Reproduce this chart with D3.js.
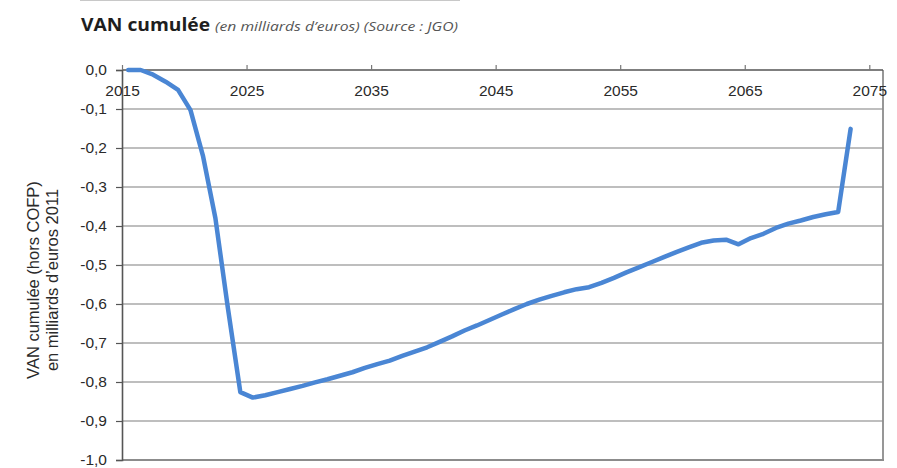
<!DOCTYPE html>
<html>
<head>
<meta charset="utf-8">
<script src="https://cdn.jsdelivr.net/npm/d3@7"></script>
<style>
  body { margin: 0; background: #fff; }
  svg { display: block; }
</style>
</head>
<body>
<div id="vis"></div>
<script>
// years and cumulated NPV (billions EUR 2011)
var years = d3.range(2015, 2074)
var van = [
  0, 0, -0.012, -0.03, -0.051, -0.103, -0.22, -0.38, -0.61, -0.826,
  -0.84, -0.834, -0.826, -0.818, -0.81, -0.801, -0.793, -0.784, -0.775, -0.764,
  -0.754, -0.745, -0.733, -0.722, -0.711, -0.697, -0.683, -0.668, -0.655, -0.641,
  -0.627, -0.613, -0.6, -0.589, -0.579, -0.57, -0.562, -0.557, -0.546, -0.533,
  -0.519, -0.506, -0.493, -0.48, -0.467, -0.455, -0.443, -0.437, -0.435, -0.447,
  -0.431, -0.42, -0.405, -0.394, -0.386, -0.377, -0.37, -0.364, -0.151
]
var xTicks = [2015, 2025, 2035, 2045, 2055, 2065, 2075]
var yTicks = d3.range(0, 11).map(function(i) { return -i / 10 })

var width = 897, height = 468
var margin = {top: 70, right: 14, bottom: 8, left: 122}

var svg = d3.select("#vis").append("svg")
    .attr("width", width)
    .attr("height", height)

// header
svg.append("line")
    .attr("x1", 80).attr("x2", 460).attr("y1", 0.5).attr("y2", 0.5)
    .attr("stroke", "#c8c8c8").attr("stroke-width", 1)

var title = svg.append("text")
    .attr("x", 81).attr("y", 31)
    .style("font-family", "'Open Sans', sans-serif")
title.append("tspan")
    .style("font-weight", "bold").style("font-size", "18px").style("fill", "#1e1e1e")
    .attr("textLength", 129).attr("lengthAdjust", "spacingAndGlyphs")
    .text("VAN cumulée")
title.append("tspan")
    .attr("x", 215)
    .style("font-style", "italic").style("font-size", "12.5px").style("fill", "#555")
    .attr("textLength", 243).attr("lengthAdjust", "spacingAndGlyphs")
    .text("(en milliards d’euros) (Source : JGO)")

var x = d3.scaleLinear()
    .domain([2015, 2076.1])
    .range([margin.left, width - margin.right])

var y = d3.scaleLinear()
    .domain([-1, 0])
    .range([height - margin.bottom, margin.top])

var g = svg.append("g")

// grid
g.selectAll(".grid")
    .data(yTicks.filter(function(d) { return d < 0 && d > -1 }))
    .enter().append("line")
    .attr("x1", x(2015)).attr("x2", x(2076.1))
    .attr("y1", function(d) { return y(d) }).attr("y2", function(d) { return y(d) })
    .attr("stroke", "#a9a9a9").attr("stroke-width", 1.4)

// frame right and bottom
g.append("line")
    .attr("x1", x(2015)).attr("x2", x(2076.1) + 1)
    .attr("y1", y(-1)).attr("y2", y(-1))
    .attr("stroke", "#8c8c8c").attr("stroke-width", 1.8)
g.append("line")
    .attr("x1", x(2076.1)).attr("x2", x(2076.1))
    .attr("y1", y(0)).attr("y2", y(-1))
    .attr("stroke", "#8c8c8c").attr("stroke-width", 1.8)

var tickFont = "'Liberation Sans', Arial, sans-serif"

// y axis
var yAxis = g.append("g")
    .attr("transform", "translate(" + x(2015) + ",0)")
    .call(d3.axisLeft(y).tickValues(yTicks).tickSize(6).tickPadding(9)
      .tickFormat(function(d) { return d3.format(".1f")(d).replace(".", ",").replace("−", "-") }))
yAxis.select(".domain").attr("stroke", "#555").attr("stroke-width", 1.6)
yAxis.selectAll(".tick line").attr("stroke", "#555").attr("stroke-width", 1.2)
yAxis.selectAll("text")
    .style("font-family", tickFont)
    .style("font-size", "15.5px").style("fill", "#2a2a2a")

// x axis along the zero line, labels below it
var xAxis = g.append("g")
    .attr("transform", "translate(0," + y(0) + ")")
    .call(d3.axisTop(x).tickValues(xTicks).tickSize(5).tickFormat(d3.format("d")))
xAxis.select(".domain").attr("d", "M" + x(2015) + ",0H" + x(2076.1))
    .attr("stroke", "#555").attr("stroke-width", 1.6)
xAxis.selectAll(".tick line").attr("stroke", "#777").attr("stroke-width", 1.2)
xAxis.selectAll("text")
    .attr("y", 26).attr("dy", 0)
    .style("font-family", tickFont)
    .style("font-size", "15.5px").style("fill", "#2a2a2a")

// axis title
var yTitle = svg.append("text")
    .attr("transform", "translate(39,280) rotate(-90)")
    .attr("text-anchor", "middle")
    .style("font-family", tickFont)
    .style("font-size", "16.5px").style("fill", "#2a2a2a")
yTitle.append("tspan").attr("x", 0).attr("y", 0).text("VAN cumulée (hors COFP)")
yTitle.append("tspan").attr("x", 0).attr("y", 18.5).text("en milliards d’euros 2011")

// line (annual values placed at mid-year)
var line = d3.line()
    .x(function(d, i) { return x(years[i] + 0.5) })
    .y(function(d) { return y(d) })

g.append("path")
    .datum(van)
    .attr("d", line)
    .attr("fill", "none")
    .attr("stroke", "#4a86d4")
    .attr("stroke-width", 4.5)
    .attr("stroke-linejoin", "round")
    .attr("stroke-linecap", "round")
</script>
</body>
</html>
